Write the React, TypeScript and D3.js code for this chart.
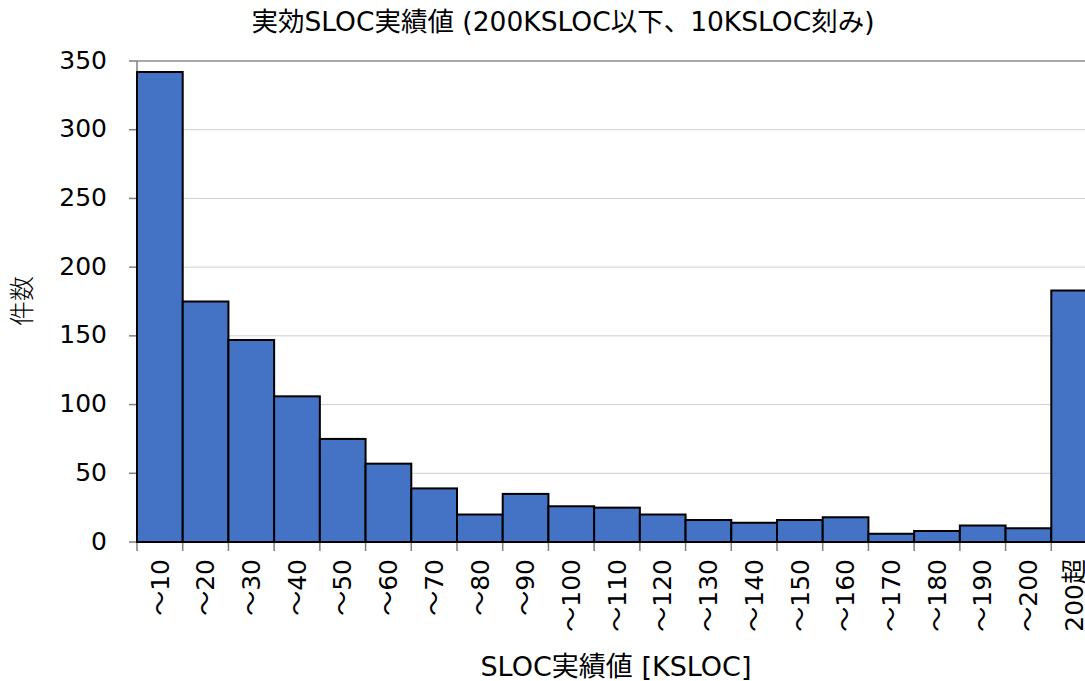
import React from "react";
import * as d3 from "d3";

const categories = ["～10","～20","～30","～40","～50","～60","～70","～80","～90","～100","～110","～120","～130","～140","～150","～160","～170","～180","～190","～200","200超"];
const counts = [342,175,147,106,75,57,39,20,35,26,25,20,16,14,16,18,6,8,12,10,183];
const yTicks = [0,50,100,150,200,250,300,350];
const title = "実効SLOC実績値 (200KSLOC以下、10KSLOC刻み)";
const xTitle = "SLOC実績値 [KSLOC]";
const yTitle = "件数";

const W = 1085, H = 681;
const left = 137, right = 1097, top = 61, bottom = 542;
const FONT = "'DejaVu Sans', 'Noto Sans CJK JP', sans-serif";

export default function App() {
  const x = d3.scaleBand<string>().domain(categories).range([left, right]).padding(0);
  const y = d3.scaleLinear().domain([0, 350]).range([bottom, top]);
  const bw = x.bandwidth();
  return (
    <svg width={W} height={H} style={{ position: "absolute", left: 0, top: 0 }} fontFamily={FONT}>
      <rect width={W} height={H} fill="#fff" />
      {yTicks.map(t => (
        <g key={t}>
          {t > 0 && <line x1={left} x2={right} y1={y(t)} y2={y(t)} stroke={t === 350 ? "#8c8c8c" : "#d0d0d0"} strokeWidth={t === 350 ? 1.5 : 1} />}
          <line x1={left - 8} x2={left} y1={y(t)} y2={y(t)} stroke="#7f7f7f" strokeWidth={1.5} />
          <text x={107} y={y(t)} dy="0.3em" textAnchor="end" fontSize={25} fill="#000">{t}</text>
        </g>
      ))}
      <line x1={left} x2={left} y1={top} y2={bottom} stroke="#7f7f7f" strokeWidth={1.5} />
      {categories.map((c, i) => (
        <line key={"t" + i} x1={x(c)!} x2={x(c)!} y1={bottom} y2={bottom + 9} stroke="#7f7f7f" strokeWidth={1.5} />
      ))}
      <line x1={right} x2={right} y1={bottom} y2={bottom + 9} stroke="#7f7f7f" strokeWidth={1.5} />
      {categories.map((c, i) => (
        <rect key={c} x={x(c)!} y={y(counts[i])} width={bw} height={bottom - y(counts[i])} fill="#4472C4" stroke="#000" strokeWidth={2} />
      ))}
      <line x1={left} x2={right} y1={bottom} y2={bottom} stroke="#000" strokeWidth={2} />
      {categories.map(c => {
        const cx = x(c)! + bw / 2;
        return (
          <text key={"l" + c} transform={`translate(${cx},${bottom + 17}) rotate(-90)`} textAnchor="end" dy="0.35em" fontSize={25} fill="#000">{c}</text>
        );
      })}
      <text x={563} y={31} textAnchor="middle" fontSize={26.5} fill="#000">{title}</text>
      <text x={616} y={676} textAnchor="middle" fontSize={27} fill="#000">{xTitle}</text>
      <text transform={`translate(31,301) rotate(-90)`} textAnchor="middle" fontSize={25} fill="#000" fontFamily="'Noto Sans CJK JP', sans-serif" fontWeight={300}>{yTitle}</text>
    </svg>
  );
}
